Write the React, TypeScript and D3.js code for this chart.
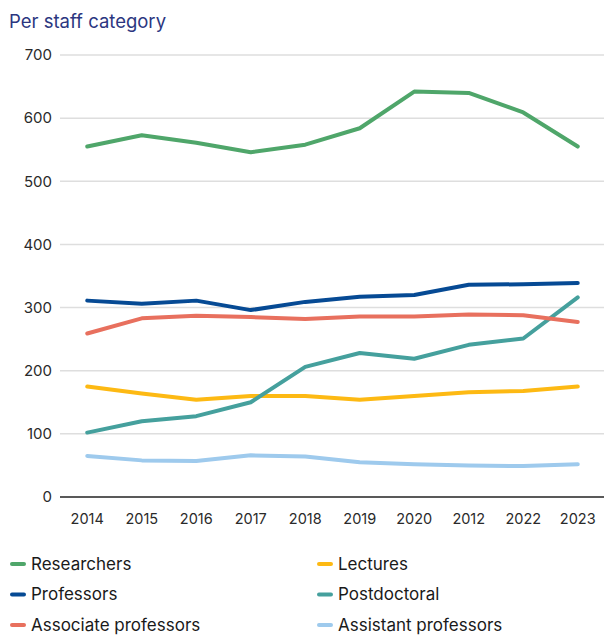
import React, { useEffect, useRef } from 'react'
import * as d3 from 'd3'

const years = ['2014', '2015', '2016', '2017', '2018', '2019', '2020', '2012', '2022', '2023']

const researchers = [555, 573, 561, 546, 558, 584, 642, 640, 609, 555]
const professors = [311, 306, 311, 296, 309, 317, 320, 336, 337, 339]
const associateProfessors = [259, 283, 287, 285, 282, 286, 286, 289, 288, 277]
const lectures = [175, 164, 154, 160, 160, 154, 160, 166, 168, 175]
const postdoctoral = [102, 120, 128, 150, 206, 228, 219, 241, 251, 316]
const assistantProfessors = [65, 58, 57, 66, 64, 55, 52, 50, 49, 52]

const yTicks = [0, 100, 200, 300, 400, 500, 600, 700]

const series = [
  { name: 'Researchers', values: researchers, color: '#4fa66a' },
  { name: 'Lectures', values: lectures, color: '#fdb913' },
  { name: 'Professors', values: professors, color: '#064a94' },
  { name: 'Postdoctoral', values: postdoctoral, color: '#45a09d' },
  { name: 'Associate professors', values: associateProfessors, color: '#e8705e' },
  { name: 'Assistant professors', values: assistantProfessors, color: '#9ecaed' },
]

const drawOrder = ['Assistant professors', 'Lectures', 'Postdoctoral', 'Associate professors', 'Professors', 'Researchers']

const App: React.FC = () => {
  const svgRef = useRef<SVGSVGElement>(null)
  const width = 604
  const height = 635

  useEffect(() => {
    const svg = d3.select(svgRef.current)
    svg.selectAll('*').remove()

    const font = 'Inter, "Noto Sans", sans-serif'

    const x = d3.scalePoint<string>().domain(years).range([60, 605]).padding(0.5)
    const y = d3.scaleLinear().domain([0, 700]).range([497, 55])

    // subtitle
    svg.append('text')
      .attr('x', 9)
      .attr('y', 28)
      .attr('fill', '#2b3680')
      .attr('font-family', font)
      .attr('font-size', 18.5)
      .text('Per staff category')

    // grid
    svg.append('g')
      .selectAll('line')
      .data(yTicks.filter(d => d > 0))
      .enter()
      .append('line')
      .attr('x1', 60)
      .attr('x2', 604)
      .attr('y1', d => y(d))
      .attr('y2', d => y(d))
      .attr('stroke', '#dedede')
      .attr('stroke-width', 1.5)

    // y labels
    svg.append('g')
      .selectAll('text')
      .data(yTicks)
      .enter()
      .append('text')
      .attr('x', 52)
      .attr('y', d => y(d))
      .attr('dy', '0.35em')
      .attr('text-anchor', 'end')
      .attr('fill', '#2a2a2a')
      .attr('font-family', font)
      .attr('font-size', 15)
      .text(d => d)

    // baseline
    svg.append('line')
      .attr('x1', 60)
      .attr('x2', 604)
      .attr('y1', y(0))
      .attr('y2', y(0))
      .attr('stroke', '#222')
      .attr('stroke-width', 1.5)

    // x labels
    svg.append('g')
      .selectAll('text')
      .data(years)
      .enter()
      .append('text')
      .attr('x', d => x(d) || 0)
      .attr('y', 524)
      .attr('text-anchor', 'middle')
      .attr('fill', '#2a2a2a')
      .attr('font-family', font)
      .attr('font-size', 14.5)
      .text(d => d)

    const line = d3.line<number>()
      .x((d, i) => x(years[i]) || 0)
      .y(d => y(d))

    drawOrder.forEach(n => {
      const s = series.find(v => v.name === n)!
      svg.append('path')
        .datum(s.values)
        .attr('fill', 'none')
        .attr('stroke', s.color)
        .attr('stroke-width', 4)
        .attr('stroke-linecap', 'round')
        .attr('stroke-linejoin', 'round')
        .attr('d', line)
    })

    // legend
    const legend = svg.append('g')
    series.forEach((s, i) => {
      const col = i % 2
      const row = Math.floor(i / 2)
      const lx = col === 0 ? 12 : 319
      const ly = 564 + row * 30.5
      legend.append('line')
        .attr('x1', lx)
        .attr('x2', lx + 12)
        .attr('y1', ly)
        .attr('y2', ly)
        .attr('stroke', s.color)
        .attr('stroke-width', 4)
        .attr('stroke-linecap', 'round')
      legend.append('text')
        .attr('x', lx + 19)
        .attr('y', ly)
        .attr('dy', '0.35em')
        .attr('fill', '#1a1a1a')
        .attr('font-family', font)
        .attr('font-size', 17)
        .text(s.name)
    })
  }, [])

  return (
    <svg
      ref={svgRef}
      width={width}
      height={height}
      style={{ position: 'absolute', left: 0, top: 0, background: '#fff' }}
    ></svg>
  )
}

export default App
